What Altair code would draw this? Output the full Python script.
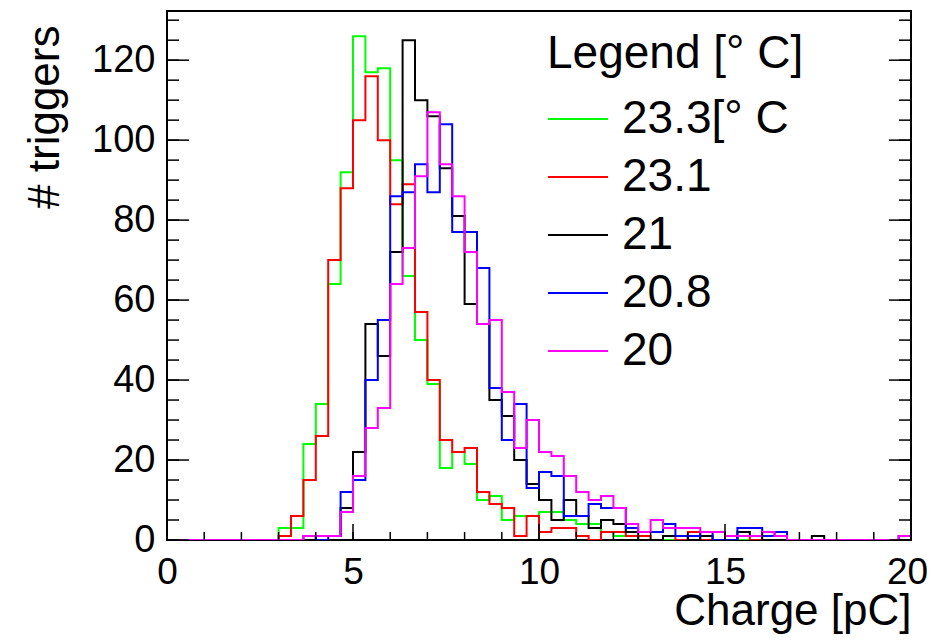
import altair as alt
import pandas as pd

# ---- data (60 bins of 1/3 pC from 0 to 20) ----
series_labels = ["23.3[° C", "23.1", "21", "20.8", "20"]
series_colors = ["#00ff00", "#ff0000", "#000000", "#0000ff", "#ff00ff"]

green = [0, 0, 0, 0, 0, 0, 0, 0, 0, 3,
         3, 24, 34, 64, 92, 126, 117, 118, 95, 66,
         50, 39, 18, 22, 19, 10, 11, 5, 6, 6,
         7, 7, 5, 4, 4, 2, 1, 1, 0, 0,
         0, 0, 0, 0, 0, 0, 0, 0, 0, 0,
         0, 0, 0, 0, 0, 0, 0, 0, 0, 0]
red = [0, 0, 0, 0, 0, 0, 0, 0, 0, 1,
       6, 15, 26, 70, 88, 105, 116, 100, 84, 89,
       57, 40, 25, 22, 23, 12, 9, 8, 1, 6,
       2, 3, 3, 1, 0, 2, 2, 1, 1, 0,
       1, 0, 2, 0, 0, 0, 1, 0, 0, 0,
       0, 0, 0, 0, 0, 0, 0, 0, 0, 0]
black = [0, 0, 0, 0, 0, 0, 0, 0, 0, 0,
         0, 0, 1, 1, 8, 22, 54, 46, 72, 125,
         110, 106, 93, 81, 59, 54, 35, 31, 20, 14,
         10, 5, 10, 6, 3, 5, 4, 2, 0, 0,
         1, 1, 0, 1, 0, 0, 2, 1, 0, 0,
         0, 0, 1, 0, 0, 0, 0, 0, 0, 0]
blue = [0, 0, 0, 0, 0, 0, 0, 0, 0, 0,
        0, 1, 0, 1, 12, 15, 40, 55, 86, 87,
        94, 87, 104, 77, 77, 68, 38, 25, 34, 13,
        17, 16, 6, 6, 9, 8, 8, 3, 2, 2,
        4, 1, 1, 2, 0, 0, 3, 3, 1, 2,
        0, 0, 0, 0, 0, 0, 0, 0, 0, 1]
magenta = [0, 0, 0, 0, 0, 0, 0, 0, 0, 0,
           0, 1, 1, 1, 7, 16, 28, 33, 64, 73,
           91, 107, 94, 86, 72, 54, 55, 37, 23, 30,
           22, 21, 16, 12, 10, 11, 8, 4, 2, 5,
           3, 3, 3, 2, 2, 1, 1, 1, 2, 1,
           0, 0, 0, 0, 0, 0, 0, 0, 0, 1]

x_major = [0, 5, 10, 15, 20]
x_minor = list(range(0, 21))
y_major = [0, 20, 40, 60, 80, 100, 120]
y_minor = list(range(0, 131, 5))

X_MIN, X_MAX, Y_MAX = 0, 20, 132.3
N_BINS = 60

# ---- build long table ----
rows = []
for lab, vals in zip(series_labels, [green, red, black, blue, magenta]):
    for i, v in enumerate(vals):
        rows.append({"series": lab, "x": X_MIN + i * (X_MAX - X_MIN) / N_BINS, "y": v})
    rows.append({"series": lab, "x": X_MAX, "y": vals[-1]})
df = pd.DataFrame(rows)

W, H = 744, 529
FONT = "Liberation Sans"

x_scale = alt.Scale(domain=[X_MIN, X_MAX], nice=False, zero=False)
y_scale = alt.Scale(domain=[0, Y_MAX], nice=False)

x_axis = alt.Axis(values=x_major, title="Charge [pC]", domain=False, ticks=False,
                  grid=False, labelFontSize=37, labelFont=FONT, labelColor="black",
                  labelPadding=14, labelFlush=False, labelOverlap=False,
                  labelOffset={"condition": {"test": f"datum.value == {X_MAX}", "value": -4},
                               "value": 0},
                  titleFontSize=44, titleFont=FONT, titleFontWeight="normal",
                  titleColor="black", titleAlign="right", titleBaseline="alphabetic",
                  titleX=W, titleY=84)
y_axis = alt.Axis(values=y_major, title="# triggers", domain=False, ticks=False,
                  grid=False, labelFontSize=38, labelFont=FONT, labelColor="black",
                  labelPadding=12, labelOverlap=False,
                  titleFontSize=44, titleFont=FONT, titleFontWeight="normal",
                  titleColor="black", titleAngle=270, titleAlign="right",
                  titleBaseline="alphabetic", titleX=-109, titleY=14)

hist = alt.Chart(df).mark_line(interpolate="step-after", strokeWidth=2, clip=True).encode(
    x=alt.X("x:Q", scale=x_scale, axis=x_axis),
    y=alt.Y("y:Q", scale=y_scale, axis=y_axis),
    color=alt.Color("series:N",
                    scale=alt.Scale(domain=series_labels, range=series_colors),
                    legend=alt.Legend(title="Legend [° C]", orient="none", legendX=380, legendY=21,
                                      padding=0, titleFontSize=46, titleFont=FONT,
                                      titleFontWeight="normal", titleColor="black",
                                      titlePadding=10, titleLimit=600, labelLimit=600,
                                      labelFontSize=46, labelFont=FONT,
                                      labelColor="black", symbolType="stroke", symbolSize=3600,
                                      symbolStrokeWidth=2, labelOffset=13, rowPadding=4)),
)

def xticks(vals, length):
    return alt.Chart(pd.DataFrame({"x": vals})).mark_rule(color="black", strokeWidth=1.5).encode(
        x=alt.X("x:Q", scale=x_scale, axis=x_axis),
        y=alt.value(H), y2=alt.value(H - length))

def yticks(vals, length, right=False):
    x0 = W if right else 0
    x1 = W - length if right else length
    return alt.Chart(pd.DataFrame({"y": vals})).mark_rule(color="black", strokeWidth=1.5).encode(
        y=alt.Y("y:Q", scale=y_scale, axis=y_axis),
        x=alt.value(x0), x2=alt.value(x1))

chart = alt.layer(
    hist,
    xticks(x_minor, 8), xticks(x_major, 16),
    yticks(y_minor, 12), yticks(y_major, 22),
    yticks(y_minor, 12, True), yticks(y_major, 22, True),
).properties(
    width=W, height=H,
    autosize=alt.AutoSizeParams(type="none"),
    padding={"left": 159, "top": 3, "right": 16, "bottom": 98},
).configure(font=FONT).configure_view(stroke="#000000", strokeWidth=2, strokeOpacity=1)

chart.save("out.html", embed_options={"renderer": "svg", "actions": False})
